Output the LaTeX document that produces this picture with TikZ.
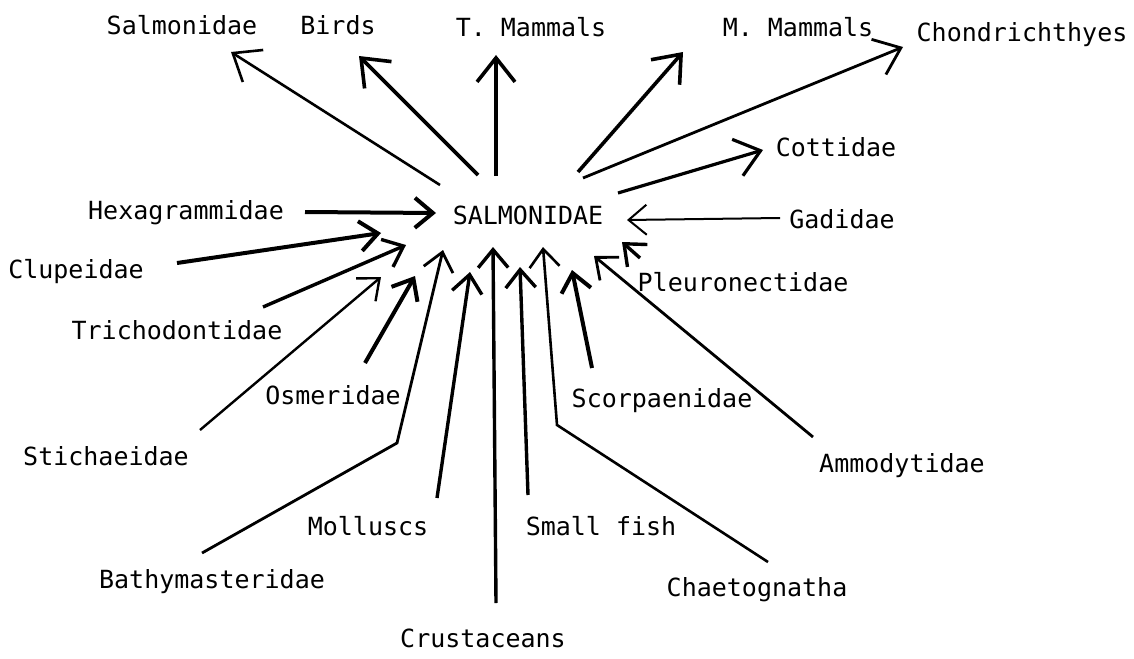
\documentclass[tikz,border=0pt]{standalone}
\usepackage{fontspec}
\setmonofont{DejaVu Sans Mono}
\usetikzlibrary{arrows.meta}

\tikzset{
  lbl/.style={font=\ttfamily\fontsize{25}{30}\selectfont, inner sep=0pt},
  bigtip/.style={-{Straight Barb[length=24pt,width=38pt]}},
  smalltip/.style={-{Straight Barb[length=18pt,width=30pt]}},
  outarrow/.style={draw, line width=3.6pt, bigtip},
  inarrow/.style={draw, line width=3.4pt, smalltip},
  thinarrow/.style={draw, line width=2.4pt, smalltip},
}

\begin{document}
\begin{tikzpicture}[x=1pt,y=-1pt]
  \useasboundingbox (0,0) rectangle (1134,658);

  % labels
  \node[lbl] (centre) at (528,215) {SALMONIDAE};
  \node[lbl] (salm) at (182,25) {Salmonidae};
  \node[lbl] (bird) at (338,25) {Birds};
  \node[lbl] (tmam) at (531,27) {T. Mammals};
  \node[lbl] (mmam) at (798,27) {M. Mammals};
  \node[lbl] (chon) at (1022,35) {Chondrichthyes};
  \node[lbl] (cott) at (836,147) {Cottidae};
  \node[lbl] (hexa) at (186,213) {Hexagrammidae};
  \node[lbl] (gadi) at (842,219) {Gadidae};
  \node[lbl] (clup) at (76,272) {Clupeidae};
  \node[lbl] (pleu) at (743,282) {Pleuronectidae};
  \node[lbl] (tric) at (177,330) {Trichodontidae};
  \node[lbl] (osme) at (333,395) {Osmeridae};
  \node[lbl] (scor) at (662,401) {Scorpaenidae};
  \node[lbl] (stic) at (106,456) {Stichaeidae};
  \node[lbl] (ammo) at (902,466) {Ammodytidae};
  \node[lbl] (moll) at (368,526) {Molluscs};
  \node[lbl] (smal) at (601,526) {Small fish};
  \node[lbl] (bath) at (212,582) {Bathymasteridae};
  \node[lbl] (chae) at (757,590) {Chaetognatha};
  \node[lbl] (crus) at (483,638) {Crustaceans};

  % arrow ends
  \coordinate (oSalm) at (440,185); \coordinate (tSalm) at (231,52);
  \coordinate (oBird) at (478,175); \coordinate (tBird) at (359,56);
  \coordinate (oTmam) at (496,176); \coordinate (tTmam) at (496,55);
  \coordinate (oMmam) at (578,172); \coordinate (tMmam) at (683,52);
  \coordinate (oChon) at (583,178); \coordinate (tChon) at (903,47);
  \coordinate (oCott) at (618,193); \coordinate (tCott) at (763,150);

  \coordinate (fHexa) at (305,212); \coordinate (tHexa) at (436,213);
  \coordinate (fClup) at (177,263); \coordinate (tClup) at (381,233);
  \coordinate (fTric) at (263,307); \coordinate (tTric) at (406,245);
  \coordinate (fStic) at (200,430); \coordinate (tStic) at (381,277);
  \coordinate (fOsme) at (365,363); \coordinate (tOsme) at (415,276);
  \coordinate (fBath) at (202,553); \coordinate (kBath) at (397,443); \coordinate (tBath) at (443,250);
  \coordinate (fMoll) at (437,498); \coordinate (tMoll) at (470,272);
  \coordinate (fCrus) at (496,603); \coordinate (tCrus) at (493,247);
  \coordinate (fSmal) at (528,495); \coordinate (tSmal) at (520,267);
  \coordinate (fChae) at (768,562); \coordinate (kChae) at (557,425); \coordinate (tChae) at (543,247);
  \coordinate (fScor) at (592,368); \coordinate (tScor) at (572,270);
  \coordinate (fAmmo) at (813,437); \coordinate (tAmmo) at (594,256);
  \coordinate (fPleu) at (640,258); \coordinate (tPleu) at (622,242);
  \coordinate (fGadi) at (780,218); \coordinate (tGadi) at (627,220);

  % eaten by salmonidae
  \draw[outarrow, line width=2.6pt] (oSalm) -- (tSalm);
  \draw[outarrow] (oBird) -- (tBird);
  \draw[outarrow] (oTmam) -- (tTmam);
  \draw[outarrow] (oMmam) -- (tMmam);
  \draw[outarrow, line width=2.8pt] (oChon) -- (tChon);
  \draw[outarrow, line width=3.2pt] (oCott) -- (tCott);

  % eaten by them
  \draw[inarrow, line width=4pt] (fHexa) -- (tHexa);
  \draw[inarrow, line width=4pt] (fClup) -- (tClup);
  \draw[inarrow] (fTric) -- (tTric);
  \draw[thinarrow] (fStic) -- (tStic);
  \draw[inarrow, line width=4pt] (fOsme) -- (tOsme);
  \draw[inarrow, line width=2.8pt] (fBath) -- (kBath) -- (tBath);
  \draw[inarrow] (fMoll) -- (tMoll);
  \draw[inarrow] (fCrus) -- (tCrus);
  \draw[inarrow] (fSmal) -- (tSmal);
  \draw[thinarrow, line width=2.6pt] (fChae) -- (kChae) -- (tChae);
  \draw[inarrow, line width=4pt] (fScor) -- (tScor);
  \draw[thinarrow, line width=2.8pt] (fAmmo) -- (tAmmo);
  \draw[inarrow] (fPleu) -- (tPleu);
  \draw[thinarrow, line width=2pt] (fGadi) -- (tGadi);
\end{tikzpicture}
\end{document}
